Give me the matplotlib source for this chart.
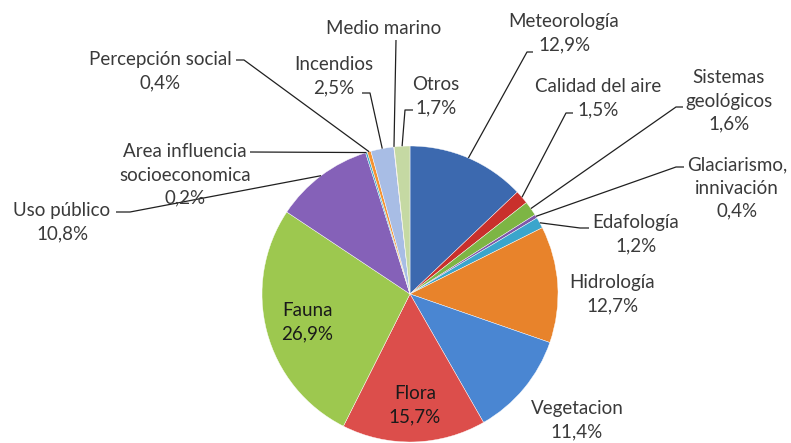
import numpy as np
import matplotlib
matplotlib.use("Agg")
import matplotlib.pyplot as plt

# datos (porcentajes), en el orden del grafico, sentido horario desde arriba
categorias = ["Meteorología", "Calidad del aire", "Sistemas\ngeológicos",
              "Glaciarismo,\ninnivación", "Edafología", "Hidrología",
              "Vegetacion", "Flora", "Fauna", "Uso público",
              "Area influencia\nsocioeconomica", "Percepción social",
              "Incendios", "Medio marino", "Otros"]
valores = [12.9, 1.5, 1.6, 0.4, 1.2, 12.7, 11.4, 15.7, 26.9, 10.8,
           0.2, 0.4, 2.5, 0.05, 1.7]
etiquetas_pct = ["12,9%", "1,5%", "1,6%", "0,4%", "1,2%", "12,7%", "11,4%",
                 "15,7%", "26,9%", "10,8%", "0,2%", "0,4%", "2,5%", "", "1,7%"]
colores = ["#3C69AF", "#C9302C", "#7DB544", "#7E57A8", "#3AA5CC", "#E8832B",
           "#4A86D2", "#DC4E4B", "#9DC84F", "#8561B8", "#41A9C9", "#F59331",
           "#A8BDE5", "#E0A0A0", "#C5D9A3"]

W, H = 791, 443
fig = plt.figure(figsize=(W / 100, H / 100), dpi=100)
ax = fig.add_axes([0, 0, 1, 1])

cx, cy, r = 410, H - 294, 148
wedges, _ = ax.pie(valores, colors=colores, startangle=90, counterclock=False,
                   center=(cx, cy), radius=r, frame=True,
                   wedgeprops=dict(linewidth=0.3, edgecolor="white"))
ax.set_xlim(0, W)
ax.set_ylim(0, H)
ax.set_aspect("equal")
ax.axis("off")

fuente = "Lato"
fs = 13.5
gris = "#3a3a3a"

# posicion de texto (px) y puntos del conector (px), None = sin conector
layout = {
    0: ((564, 33), [(533, 52), (527, 52)]),
    1: ((598, 98), [(573, 113), (566, 113)]),
    2: ((729, 101), [(683, 107), (676, 107)]),
    3: ((737, 188), [(684, 167), (676, 167)]),
    4: ((636, 234), [(589, 228), (580, 228)]),
    5: ((612, 294), None),
    6: ((577, 420), None),
    7: ((415, 405), None),
    8: ((307, 322), None),
    9: ((62, 222), [(116, 212), (130, 212)]),
    10: ((185, 175), [(250, 152)]),
    11: ((160, 71), [(236, 60), (244, 60)]),
    12: ((334, 76), [(362, 93), (370, 93)]),
    13: ((384, 28), [(396, 40)]),
    14: ((436, 96), [(413, 110), (405, 110)]),
}

for i, w in enumerate(wedges):
    (tx, ty), puntos = layout[i]
    texto = categorias[i] + ("\n" + etiquetas_pct[i] if etiquetas_pct[i] else "")
    color = "#1a1a1a" if i in (7, 8) else gris
    ax.text(tx, H - ty, texto, ha="center", va="center", fontsize=fs,
            family=fuente, color=color, linespacing=1.45)
    if puntos:
        ang = np.deg2rad((w.theta1 + w.theta2) / 2)
        ex, ey = cx + r * np.cos(ang), cy + r * np.sin(ang)
        xs = [p[0] for p in puntos] + [ex]
        ys = [H - p[1] for p in puntos] + [ey]
        ax.plot(xs, ys, color="#202020", lw=0.9, solid_capstyle="butt")

fig.savefig("out.png", dpi=100, facecolor="white")
